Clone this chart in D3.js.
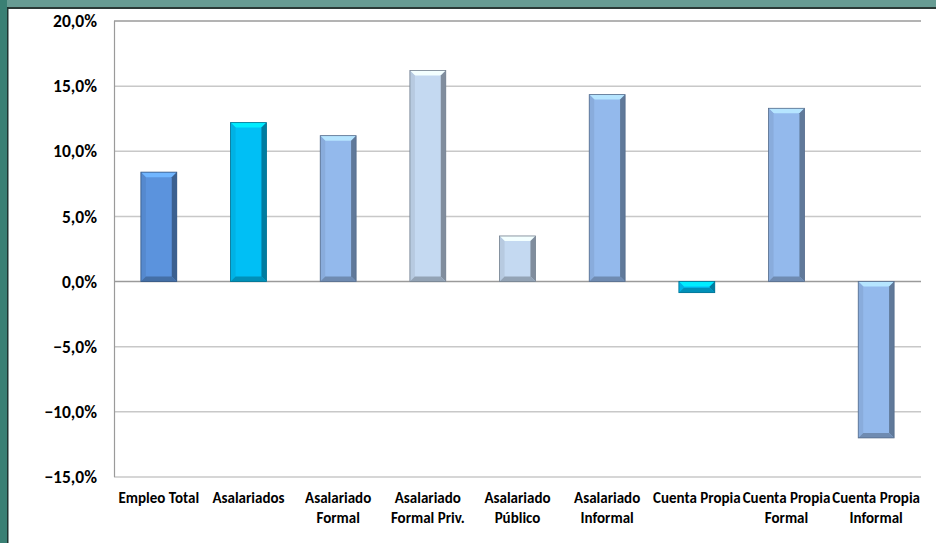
<!DOCTYPE html>
<html><head><meta charset="utf-8">
<script src="https://cdn.jsdelivr.net/npm/d3@7"></script>
<style>body{margin:0;background:#fff}svg{display:block}</style>
</head><body>
<script>
const categories = [["Empleo Total"],["Asalariados"],["Asalariado","Formal"],["Asalariado","Formal Priv."],["Asalariado","Público"],["Asalariado","Informal"],["Cuenta Propia"],["Cuenta Propia","Formal"],["Cuenta Propia","Informal"]];
const values = [8.4, 12.2, 11.2, 16.2, 3.5, 14.35, -0.85, 13.3, -12.0];
const colors = ["#5b93dd","#00bff5","#93b9ec","#c4d9f1","#c4d9f1","#93b9ec","#00bff5","#93b9ec","#93b9ec"];
const tickValues = [20,15,10,5,0,-5,-10,-15];

const W=936,H=543;
const svg=d3.select("body").append("svg").attr("width",W).attr("height",H);
// frame
svg.append("rect").attr("x",0).attr("y",0).attr("width",W).attr("height",7).attr("fill","#679c93");
svg.append("rect").attr("x",0).attr("y",0).attr("width",7).attr("height",H).attr("fill","#3a8074");
svg.append("rect").attr("x",7).attr("y",7).attr("width",W).attr("height",2).attr("fill","#2b3a36");
svg.append("rect").attr("x",7).attr("y",7).attr("width",1.5).attr("height",H).attr("fill","#1e3430");

const x=d3.scaleBand().domain(d3.range(categories.length)).range([114,921]).paddingInner(0.6).paddingOuter(0.3);
const y=d3.scaleLinear().domain([-15,20]).range([477,21]);

// gridlines
svg.append("g").selectAll("line").data(tickValues).join("line")
 .attr("x1",114).attr("x2",921).attr("y1",d=>y(d)).attr("y2",d=>y(d))
 .attr("stroke",d=>d===20||d===0?"#9a9a9a":"#c8c8c8").attr("stroke-width",1.5);
// left axis
svg.append("line").attr("x1",114.5).attr("x2",114.5).attr("y1",21).attr("y2",477).attr("stroke","#9a9a9a").attr("stroke-width",1.2);

const FONT="Carlito, Lato, 'Open Sans', sans-serif";
const yAxis=d3.axisLeft(y).tickValues(tickValues).tickSize(0).tickPadding(0)
 .tickFormat(d=>d3.format(".1f")(d).replace(".",",")+"%");
const ga=svg.append("g").attr("transform","translate(97,0)").call(yAxis);
ga.select(".domain").remove();
ga.selectAll("text").attr("font-family",FONT).attr("font-weight","900").attr("font-size",17.5).attr("fill","#000");

// bars with bevel
const bw=x.bandwidth(), b=5;
const g=svg.append("g");
values.forEach((v,i)=>{
  const x0=x(i), x1=x0+bw;
  const yt=Math.min(y(v),y(0)), yb=Math.max(y(v),y(0));
  const c=d3.color(colors[i]);
  const gg=g.append("g");
  gg.append("rect").attr("x",x0).attr("y",yt).attr("width",bw).attr("height",yb-yt).attr("fill",c);
  const bb=Math.min(b,(yb-yt)/2);
  gg.append("polygon").attr("points",[[x0,yt],[x1,yt],[x1-bb,yt+bb],[x0+bb,yt+bb]].join(" ")).attr("fill",c.brighter(0.6));
  gg.append("polygon").attr("points",[[x0,yt],[x0+bb,yt+bb],[x0+bb,yb-bb],[x0,yb]].join(" ")).attr("fill",c.darker(0.2));
  gg.append("polygon").attr("points",[[x1,yt],[x1-bb,yt+bb],[x1-bb,yb-bb],[x1,yb]].join(" ")).attr("fill",c.darker(1.2));
  gg.append("polygon").attr("points",[[x0,yb],[x0+bb,yb-bb],[x1-bb,yb-bb],[x1,yb]].join(" ")).attr("fill",c.darker(0.8));
  gg.append("rect").attr("x",x0).attr("y",yt).attr("width",bw).attr("height",yb-yt).attr("fill","none").attr("stroke",c.darker(1.5)).attr("stroke-width",0.8);
});

// category labels
const cl=svg.append("g");
categories.forEach((lines,i)=>{
  const t=cl.append("text").attr("x",x(i)+bw/2).attr("y",503).attr("text-anchor","middle")
   .attr("font-family",FONT).attr("font-weight","900").attr("font-size",15).attr("fill","#000");
  lines.forEach((s,j)=>t.append("tspan").attr("x",x(i)+bw/2).attr("dy",j?20:0).text(s));
});
</script>
</body></html>
